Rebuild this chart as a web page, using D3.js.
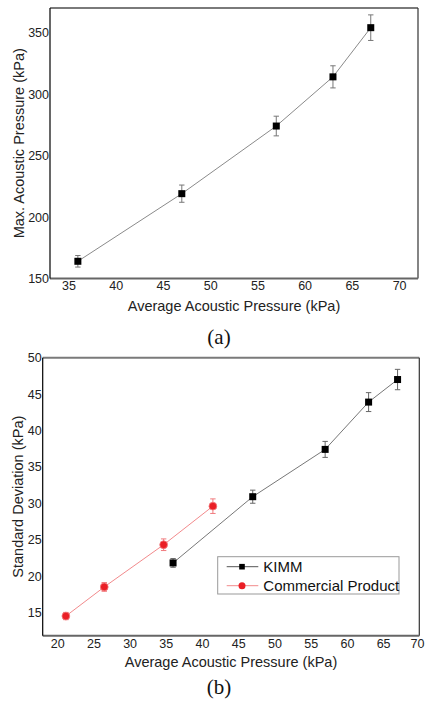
<!DOCTYPE html>
<html><head><meta charset="utf-8">
<script src="https://cdn.jsdelivr.net/npm/d3@7"></script>
<style>body{margin:0;background:#fff}svg{display:block;font-family:"Liberation Sans",Arial,sans-serif}</style>
</head><body>
<svg id="c" width="425" height="701"></svg>
<script>
// Panel (a)
const aX = [36, 47, 57, 63, 67];
const aY = [164, 219, 274, 314, 354];
const aErr = [4.7, 7, 8, 9, 10.4];
const aXTicks = [35, 40, 45, 50, 55, 60, 65, 70];
const aYTicks = [150, 200, 250, 300, 350];
// Panel (b)
const kimmX = [36, 47, 57, 63, 67];
const kimmY = [21.8, 30.9, 37.4, 43.9, 47.0];
const kimmErr = [0.6, 0.9, 1.1, 1.3, 1.4];
const commX = [21.2, 26.5, 34.7, 41.5];
const commY = [14.5, 18.5, 24.3, 29.6];
const commErr = [0.5, 0.6, 0.8, 1.0];
const bXTicks = [20, 25, 30, 35, 40, 45, 50, 55, 60, 65, 70];
const bYTicks = [15, 20, 25, 30, 35, 40, 45, 50];
const seriesNames = ["KIMM", "Commercial Product"];

const svg = d3.select("#c");
const W = 425;
const SANS = '"Liberation Sans",Arial,sans-serif';
const SERIF = '"Liberation Serif","Times New Roman",serif';

function frame(x, y) {
  const [x0, x1] = x.range(), [y0, y1] = y.range();
  const g = svg.append("g");
  g.append("line").attr("x1", x0).attr("x2", x1).attr("y1", y1).attr("y2", y1).attr("stroke", "#7a7a7a").attr("stroke-width", 2);
  g.append("line").attr("x1", x1).attr("x2", x1).attr("y1", y1).attr("y2", y0).attr("stroke", "#333").attr("stroke-width", 1.2);
  g.append("line").attr("x1", x0).attr("x2", x1).attr("y1", y0).attr("y2", y0).attr("stroke", "#666").attr("stroke-width", 2);
  g.append("line").attr("x1", x0).attr("x2", x0).attr("y1", y1).attr("y2", y0).attr("stroke", "#000").attr("stroke-width", 1.2);
}

function axes(x, y, xt, yt, xTitle, yTitle, xTitleY, yTitleX) {
  const gx = svg.append("g").attr("transform", `translate(0,${y.range()[0]})`)
    .call(d3.axisBottom(x).tickValues(xt).tickSize(0).tickPadding(3));
  gx.select(".domain").remove();
  gx.attr("font-family", null).attr("font-size", null);
  gx.selectAll("text").style("font-size", "12.5px").style("font-family", SANS).attr("fill", "#222").attr("dy", "0.71em");
  // keep a label that would run past the page edge inside it
  gx.selectAll("text").each(function () {
    const bb = this.getBBox();
    const tx = x(+d3.select(this.parentNode).datum());
    const over = tx + bb.x + bb.width - (W - 1);
    if (over > 0) d3.select(this).attr("x", -over);
  });
  const gy = svg.append("g").attr("transform", `translate(${x.range()[0]},0)`)
    .call(d3.axisLeft(y).tickValues(yt).tickSize(0).tickPadding(1));
  gy.select(".domain").remove();
  gy.attr("font-family", null).attr("font-size", null);
  gy.selectAll("text").style("font-size", "12.5px").style("font-family", SANS).attr("fill", "#222");
  const cx = (x.range()[0] + x.range()[1]) / 2;
  svg.append("text").attr("x", cx).attr("y", xTitleY).attr("text-anchor", "middle")
    .style("font-size", "14.5px").style("font-family", SANS).attr("fill", "#222").text(xTitle);
  const cy = (y.range()[0] + y.range()[1]) / 2;
  svg.append("text").attr("transform", `translate(${yTitleX},${cy}) rotate(-90)`)
    .attr("text-anchor", "middle").style("font-size", "14.5px").style("font-family", SANS).attr("fill", "#222").text(yTitle);
}

function errBars(x, y, xs, ys, es, color) {
  const g = svg.append("g").attr("stroke", color).attr("stroke-width", 1).attr("fill", "none");
  xs.forEach((v, i) => {
    const px = x(v), t = y(ys[i] + es[i]), b = y(ys[i] - es[i]);
    g.append("line").attr("x1", px).attr("x2", px).attr("y1", t).attr("y2", b);
    g.append("line").attr("x1", px - 2.7).attr("x2", px + 2.7).attr("y1", t).attr("y2", t);
    g.append("line").attr("x1", px - 2.7).attr("x2", px + 2.7).attr("y1", b).attr("y2", b);
  });
}

function lineSeries(x, y, xs, ys, color) {
  const pts = xs.map((v, i) => [x(v), y(ys[i])]);
  svg.append("path").attr("d", d3.line()(pts)).attr("fill", "none").attr("stroke", color).attr("stroke-width", 1);
}

function squares(x, y, xs, ys) {
  svg.append("g").selectAll("rect").data(xs).join("rect")
    .attr("x", (d) => x(d) - 3.5).attr("y", (d, i) => y(ys[i]) - 3.5)
    .attr("width", 7).attr("height", 7).attr("fill", "#000");
}
function circles(x, y, xs, ys) {
  svg.append("g").selectAll("circle").data(xs).join("circle")
    .attr("cx", (d) => x(d)).attr("cy", (d, i) => y(ys[i])).attr("r", 3.9)
    .attr("fill", "#ea1f26").attr("stroke", "#f27a7e").attr("stroke-width", 0.8);
}

// ---- Panel (a)
const xa = d3.scaleLinear().domain([33.05, 72]).range([50, 418]);
const ya = d3.scaleLinear().domain([150, 370]).range([278.5, 8]);
axes(xa, ya, aXTicks, aYTicks, "Average Acoustic Pressure (kPa)", "Max. Acoustic Pressure (kPa)", 310.5, 23.5);
lineSeries(xa, ya, aX, aY, "#8a8a8a");
errBars(xa, ya, aX, aY, aErr, "#777");
squares(xa, ya, aX, aY);
frame(xa, ya);
svg.append("text").attr("x", 219).attr("y", 344).attr("text-anchor", "middle")
  .style("font-family", SERIF).style("font-size", "21px").attr("fill", "#111").text("(a)");

// ---- Panel (b)
const xb = d3.scaleLinear().domain([18, 70]).range([42.7, 419.3]);
const yb = d3.scaleLinear().domain([11.8, 50]).range([635.7, 357.7]);
axes(xb, yb, bXTicks, bYTicks, "Average Acoustic Pressure (kPa)", "Standard Deviation (kPa)", 666.5, 22.7);
lineSeries(xb, yb, commX, commY, "#f28a8c");
lineSeries(xb, yb, kimmX, kimmY, "#777");
errBars(xb, yb, commX, commY, commErr, "#f07a7d");
errBars(xb, yb, kimmX, kimmY, kimmErr, "#666");
circles(xb, yb, commX, commY);
squares(xb, yb, kimmX, kimmY);
frame(xb, yb);
svg.append("text").attr("x", 219).attr("y", 694).attr("text-anchor", "middle")
  .style("font-family", SERIF).style("font-size", "21px").attr("fill", "#111").text("(b)");

// Legend
const lg = svg.append("g").attr("transform", "translate(217.7,556.7)");
lg.append("rect").attr("x", 0).attr("y", 0).attr("width", 181.3).attr("height", 37.3)
  .attr("fill", "#fff").attr("stroke", "#999").attr("stroke-width", 1);
seriesNames.forEach((name, i) => {
  const yy = 10 + i * 19;
  const col = i === 0 ? "#555" : "#f28a8c";
  lg.append("line").attr("x1", 9).attr("x2", 40.6).attr("y1", yy).attr("y2", yy).attr("stroke", col).attr("stroke-width", 1);
  if (i === 0) lg.append("rect").attr("x", 24.3 - 2.8).attr("y", yy - 2.8).attr("width", 5.6).attr("height", 5.6).attr("fill", "#000");
  else lg.append("circle").attr("cx", 24.3).attr("cy", yy).attr("r", 3.5).attr("fill", "#ea1f26");
  lg.append("text").attr("x", 45.6).attr("y", yy).attr("dy", "0.36em").style("font-size", "15px").style("font-family", SANS).attr("fill", "#111").text(name);
});
</script>
</body></html>
